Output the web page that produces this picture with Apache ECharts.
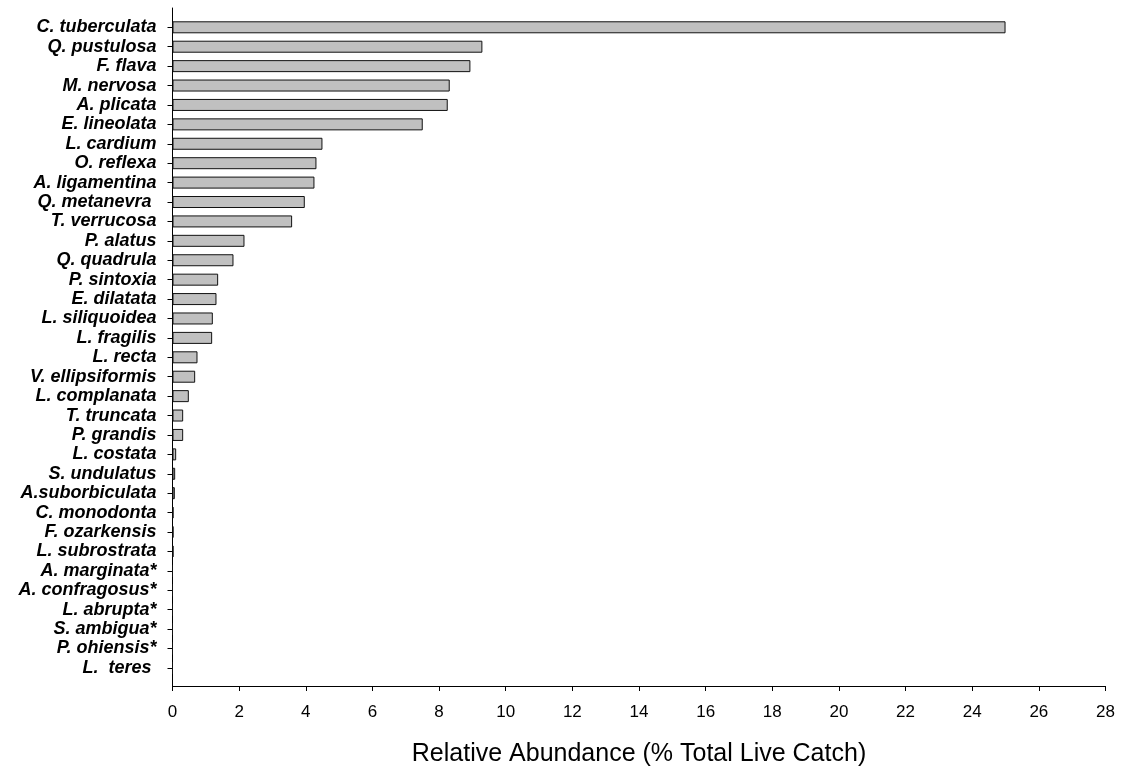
<!DOCTYPE html>
<html>
<head>
<meta charset="utf-8">
<title>Relative Abundance</title>
<script src="https://cdn.jsdelivr.net/npm/echarts@6/dist/echarts.min.js"></script>
<style>
  html, body { margin: 0; padding: 0; background: #fff; }
  #chart { width: 1123px; height: 775px; }
</style>
</head>
<body>
<div id="chart"></div>
<script>
// Species, listed top to bottom
const species = [
  'C. tuberculata', 'Q. pustulosa', 'F. flava', 'M. nervosa', 'A. plicata',
  'E. lineolata', 'L. cardium', 'O. reflexa', 'A. ligamentina', 'Q. metanevra ',
  'T. verrucosa', 'P. alatus', 'Q. quadrula', 'P. sintoxia', 'E. dilatata',
  'L. siliquoidea', 'L. fragilis', 'L. recta', 'V. ellipsiformis', 'L. complanata',
  'T. truncata', 'P. grandis', 'L. costata', 'S. undulatus', 'A.suborbiculata',
  'C. monodonta', 'F. ozarkensis', 'L. subrostrata', 'A. marginata*', 'A. confragosus*',
  'L. abrupta*', 'S. ambigua*', 'P. ohiensis*', 'L.  teres '
];

// Relative abundance (% of total live catch)
const abundance = [
  25.0, 9.3, 8.94, 8.32, 8.26,
  7.51, 4.5, 4.32, 4.26, 3.97,
  3.59, 2.16, 1.83, 1.37, 1.32,
  1.21, 1.19, 0.75, 0.68, 0.49,
  0.32, 0.32, 0.11, 0.08, 0.07,
  0.03, 0.03, 0.03, 0, 0,
  0, 0, 0, 0
];

// Value axis ticks
const xTicks = { min: 0, max: 28, interval: 2 };
const xTitle = 'Relative Abundance (% Total Live Catch)';

const chart = echarts.init(document.getElementById('chart'), null, { renderer: 'canvas' });

chart.setOption({
  animation: false,
  backgroundColor: '#ffffff',
  textStyle: { fontFamily: 'Liberation Sans, Arial, sans-serif' },
  grid: [
    { left: 172.5, right: 17.5, top: 17.6, height: 660, containLabel: false },
    // taller frame carrying the long vertical axis line
    { left: 172.5, right: 17.5, top: 8, height: 678, containLabel: false }
  ],
  xAxis: [
    {
      type: 'value',
      gridIndex: 0,
      min: xTicks.min,
      max: xTicks.max,
      interval: xTicks.interval,
      offset: 8.4,
      name: xTitle,
      nameLocation: 'middle',
      nameGap: 56,
      nameTextStyle: { fontSize: 25, color: '#000', fontFamily: 'Liberation Sans, Arial, sans-serif' },
      axisLine: { show: true, lineStyle: { color: '#000', width: 1 } },
      axisTick: { show: true, inside: false, length: 5, lineStyle: { color: '#000' } },
      axisLabel: { fontSize: 17, color: '#000', margin: 18 },
      splitLine: { show: false }
    },
    { type: 'value', gridIndex: 1, show: false, min: 0, max: 1 }
  ],
  yAxis: [
    {
      type: 'category',
      gridIndex: 0,
      data: species,
      inverse: true,
      axisLine: { show: false },
      axisTick: { show: true, alignWithLabel: true, length: 5, lineStyle: { color: '#000' } },
      axisLabel: {
        fontSize: 18,
        fontWeight: 'bold',
        fontStyle: 'italic',
        color: '#000',
        margin: 16,
        interval: 0
      },
      splitLine: { show: false }
    },
    {
      type: 'value',
      gridIndex: 1,
      min: 0,
      max: 1,
      axisLine: { show: true, lineStyle: { color: '#000', width: 1 } },
      axisTick: { show: false },
      axisLabel: { show: false },
      splitLine: { show: false }
    }
  ],
  series: [
    {
      type: 'bar',
      xAxisIndex: 0,
      yAxisIndex: 0,
      data: abundance,
      barWidth: 12,
      itemStyle: {
        color: '#c0c0c0',
        borderColor: '#111',
        borderWidth: 1
      }
    }
  ]
});
</script>
</body>
</html>
